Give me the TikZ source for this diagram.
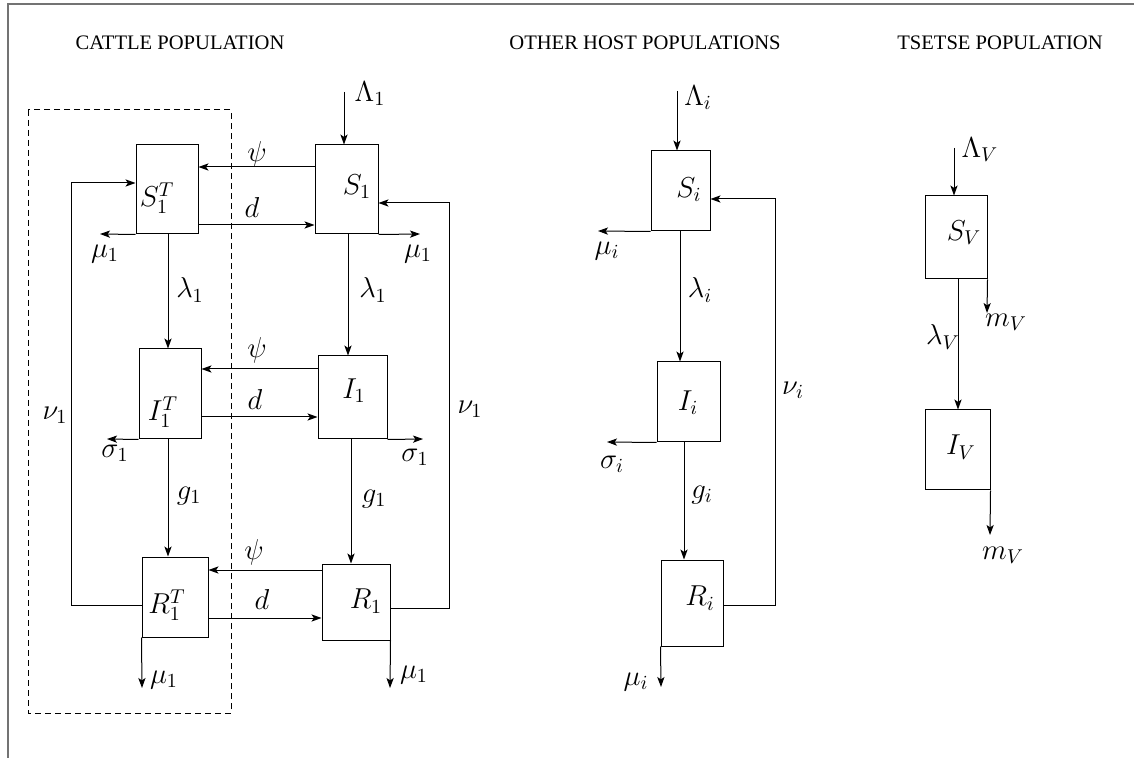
\documentclass[tikz,border=0pt]{standalone}
\usepackage{fontspec}
\newfontfamily\titlefont{Liberation Serif}
\usetikzlibrary{arrows.meta}
\begin{document}
\begin{tikzpicture}[x=0.5pt,y=-0.5pt,
  ln/.style={line width=0.5pt},
  arr/.style={ln,-{Stealth[length=5pt,width=3.6pt,inset=1.2pt]}},
  box/.style={draw,ln,rectangle,inner sep=0pt},
  lbl/.style={inner sep=0pt,font=\fontsize{14.4}{17}\selectfont},
  ttl/.style={inner sep=0pt,font=\titlefont\fontsize{10.3}{12}\selectfont},
  frame/.style={draw=black!55,line width=1pt}]
\useasboundingbox (0,0) rectangle (1134,758);
% frame (top and left edges)
\draw[frame] (1134,4.5) -- (8,4.5) -- (8,758);
% titles
\node[ttl] (t1) at (180,43) {CATTLE POPULATION};
\node[ttl] (t2) at (645,43) {OTHER HOST POPULATIONS};
\node[ttl] (t3) at (1000,43) {TSETSE POPULATION};
% dashed treated group
\draw[ln,dash pattern=on 3pt off 2pt] (28,110) rectangle (231,713);
% boxes
\node[box,minimum width=31pt,minimum height=44.5pt] (S1T) at (167,189.5) {};
\node[box,minimum width=31.5pt,minimum height=44.5pt] (S1) at (346.5,189.5) {};
\node[box,minimum width=31pt,minimum height=45pt] (I1T) at (170,394) {};
\node[box,minimum width=34.5pt,minimum height=41.5pt] (I1) at (352.5,397.5) {};
\node[box,minimum width=33pt,minimum height=40pt] (R1T) at (175,597) {};
\node[box,minimum width=34pt,minimum height=38pt] (R1) at (356,602) {};
\node[box,minimum width=29.5pt,minimum height=40pt] (Si) at (680.5,191) {};
\node[box,minimum width=31.5pt,minimum height=40pt] (Ii) at (688.5,402) {};
\node[box,minimum width=31pt,minimum height=43pt] (Ri) at (692,603) {};
\node[box,minimum width=31pt,minimum height=41.5pt] (SV) at (956,237.5) {};
\node[box,minimum width=32.5pt,minimum height=40pt] (IV) at (957.5,450) {};
% box labels
\node[lbl] (lS1T) at (157,198) {$S_1^T$};
\node[lbl] (lS1) at (357,187) {$S_1$};
\node[lbl] (lI1T) at (163,412) {$I_1^T$};
\node[lbl] (lI1) at (354,391) {$I_1$};
\node[lbl] (lR1T) at (167,605) {$R_1^T$};
\node[lbl] (lR1) at (366,601) {$R_1$};
\node[lbl] (lSi) at (689,190) {$S_i$};
\node[lbl] (lIi) at (688,403) {$I_i$};
\node[lbl] (lRi) at (700,598) {$R_i$};
\node[lbl] (lSV) at (964,233) {$S_V$};
\node[lbl] (lIV) at (961,447) {$I_V$};
% free ends
\coordinate (L1) at (344,92);
\coordinate (Li) at (677,91);
\coordinate (LV) at (954,148);
\coordinate (m1a) at (100,234);
\coordinate (m1b) at (420,234);
\coordinate (s1a) at (107,439);
\coordinate (s1b) at (423,439);
\coordinate (m1c) at (142,688);
\coordinate (m1d) at (390,688);
\coordinate (mia) at (598,231);
\coordinate (sia) at (607,442);
\coordinate (mib) at (661,687);
\coordinate (mVa) at (987,313);
\coordinate (mVb) at (990,535);
% cattle connectors
\draw[arr] (L1) -- (L1 |- S1.north);
\draw[arr] (S1.west |- 0,167) -- (S1T.east |- 0,167);
\draw[arr] (S1T.east |- 0,225) -- (S1.west |- 0,225);
\draw[arr] (S1T.south west) -- (m1a);
\draw[arr] (S1.south east) -- (m1b);
\draw[arr] (S1T.south -| 168,0) -- (I1T.north -| 168,0);
\draw[arr] (S1.south -| 348,0) -- (I1.north -| 348,0);
\draw[arr] (I1.west |- 0,369) -- (I1T.east |- 0,369);
\draw[arr] (I1T.east |- 0,417) -- (I1.west |- 0,417);
\draw[arr] (I1T.south west) -- (s1a);
\draw[arr] (I1.south east) -- (s1b);
\draw[arr] (I1T.south -| 168,0) -- (R1T.north -| 168,0);
\draw[arr] (I1.south -| 351,0) -- (R1.north -| 351,0);
\draw[arr] (R1.west |- 0,570) -- (R1T.east |- 0,570);
\draw[arr] (R1T.east |- 0,618) -- (R1.west |- 0,618);
\draw[arr] (R1T.south west) -- (m1c);
\draw[arr] (R1.south east) -- (m1d);
\draw[arr] (R1T.west |- 0,605) -- (71,605) -- (71,183) -- (S1T.west |- 0,183);
\draw[arr] (R1.east |- 0,608) -- (449,608) -- (449,203) -- (S1.east |- 0,203);
% other hosts connectors
\draw[arr] (Li) -- (Li |- Si.north);
\draw[arr] (Si.south west) -- (mia);
\draw[arr] (Si.south -| 680,0) -- (Ii.north -| 680,0);
\draw[arr] (Ii.south west) -- (sia);
\draw[arr] (Ii.south -| 684,0) -- (Ri.north -| 684,0);
\draw[arr] (Ri.south west) -- (mib);
\draw[arr] (Ri.east |- 0,605) -- (775,605) -- (775,199) -- (Si.east |- 0,199);
% tsetse connectors
\draw[arr] (LV) -- (LV |- SV.north);
\draw[arr] (SV.south east) -- (mVa);
\draw[arr] (SV.south -| 958,0) -- (IV.north -| 958,0);
\draw[arr] (IV.south east) -- (mVb);
% rate labels
\node[lbl] (kL1) at (370,94) {$\Lambda_1$};
\node[lbl] (kpsi1) at (257,154) {$\psi$};
\node[lbl] (kd1) at (252,208) {$d$};
\node[lbl] (kmu1) at (105,254) {$\mu_1$};
\node[lbl] (kmu2) at (418,254) {$\mu_1$};
\node[lbl] (klam1) at (190,290) {$\lambda_1$};
\node[lbl] (klam2) at (373,290) {$\lambda_1$};
\node[lbl] (kpsi2) at (257,350) {$\psi$};
\node[lbl] (kd2) at (255,400) {$d$};
\node[lbl] (ksig1) at (115,453) {$\sigma_1$};
\node[lbl] (ksig2) at (415,457) {$\sigma_1$};
\node[lbl] (knu1) at (55,415) {$\nu_1$};
\node[lbl] (knu2) at (470,409) {$\nu_1$};
\node[lbl] (kg1) at (189,496) {$g_1$};
\node[lbl] (kg2) at (374,499) {$g_1$};
\node[lbl] (kpsi3) at (254,552) {$\psi$};
\node[lbl] (kd3) at (262,599) {$d$};
\node[lbl] (kmu3) at (164,680) {$\mu_1$};
\node[lbl] (kmu4) at (414,675) {$\mu_1$};
\node[lbl] (kLi) at (698,98) {$\Lambda_i$};
\node[lbl] (kmui) at (607,251) {$\mu_i$};
\node[lbl] (klami) at (700,290) {$\lambda_i$};
\node[lbl] (knui) at (793,390) {$\nu_i$};
\node[lbl] (ksigi) at (612,464) {$\sigma_i$};
\node[lbl] (kgi) at (702,495) {$g_i$};
\node[lbl] (kmui2) at (636,682) {$\mu_i$};
\node[lbl] (kLV) at (980,150) {$\Lambda_V$};
\node[lbl] (kmV1) at (1006,322) {$m_V$};
\node[lbl] (klamV) at (943,337) {$\lambda_V$};
\node[lbl] (kmV2) at (1003,555) {$m_V$};
\end{tikzpicture}
\end{document}
